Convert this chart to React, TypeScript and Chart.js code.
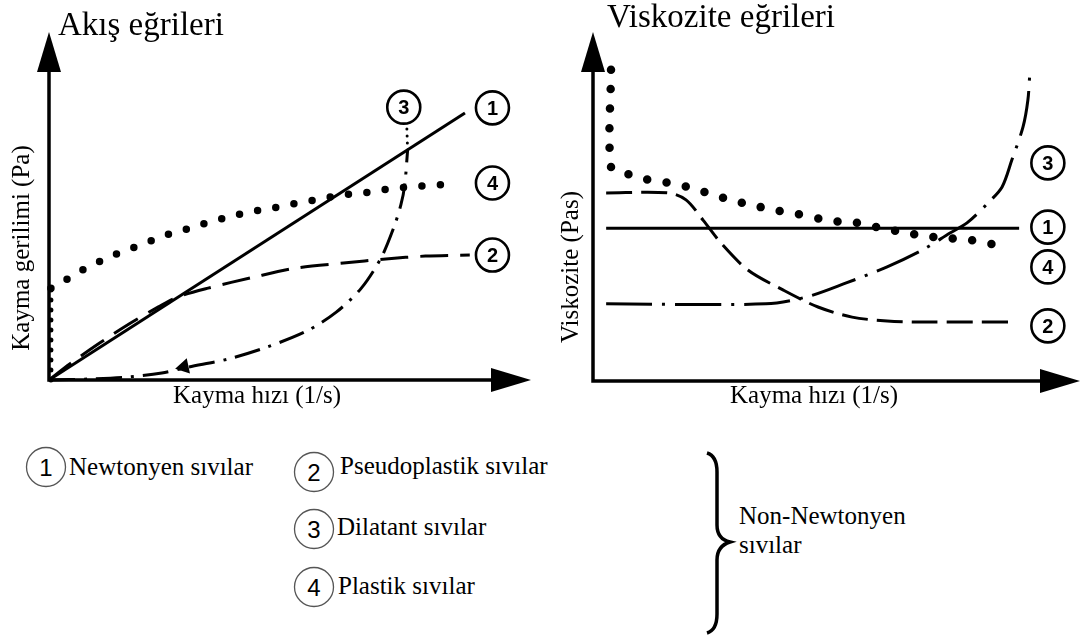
import React, { useEffect, useRef } from "react";
import { Chart, registerables } from "chart.js";

Chart.register(...registerables);

// ---------- Data (arbitrary units, both axes 0..10) ----------
// Left panel: Akış eğrileri (shear stress vs shear rate)
const flowNewtonian = [[0, 0], [8.63, 7.67]];
const flowPseudoplastic = [
  [0, 0], [0.43, 0.46], [1.05, 1.06], [1.66, 1.61], [2.27, 2.1], [2.68, 2.39],
  [3.3, 2.64], [4.26, 2.96], [5.14, 3.22], [6.11, 3.36], [6.99, 3.48], [7.81, 3.56], [8.73, 3.59],
];
const flowDilatant = [
  [0, 0], [0.84, 0.03], [1.66, 0.09], [2.34, 0.2], [2.89, 0.37], [3.71, 0.6], [4.53, 0.95],
  [5.35, 1.41], [5.96, 1.95], [6.48, 2.64], [6.89, 3.51], [7.15, 4.37], [7.3, 5.03],
  [7.38, 5.6], [7.44, 6.61],
];
const flowDilatantTail = [[7.44, 6.61], [7.42, 7.41]];
const flowDilatantArrow = [[2.8, 0.38]];
const flowPlasticYield = [[0.04, 0], [0.04, 2.64]];
const flowPlastic = [
  [0.04, 2.64], [0.29, 2.82], [0.57, 3.07], [0.9, 3.3], [1.21, 3.51], [1.56, 3.71],
  [1.91, 3.88], [2.21, 4.05], [2.54, 4.22], [2.95, 4.37], [3.32, 4.54], [3.73, 4.68],
  [4.14, 4.83], [4.53, 4.91], [4.94, 5.03], [5.29, 5.11], [5.72, 5.23], [6.09, 5.32],
  [6.52, 5.37], [6.89, 5.46], [7.25, 5.52], [7.64, 5.57], [8.03, 5.6], [8.38, 5.66],
];

// Right panel: Viskozite eğrileri (viscosity vs shear rate)
const viscNewtonian = [[0.27, 4.38], [8.75, 4.38]];
const viscPseudoplastic = [
  [0.27, 5.39], [1.54, 5.39], [1.91, 5.19], [2.26, 4.61], [2.63, 3.95], [3.18, 3.18],
  [3.9, 2.61], [4.62, 2.12], [5.32, 1.83], [6.04, 1.72], [6.76, 1.69], [8.69, 1.69],
];
const viscDilatant = [
  [0.27, 2.21], [3.55, 2.21], [4.39, 2.41], [5.2, 2.81], [6.04, 3.27], [6.76, 3.75],
  [7.33, 4.24], [7.68, 4.53], [8.11, 5.1], [8.4, 5.56], [8.6, 6.33], [8.83, 7.28],
  [8.93, 8.05], [8.97, 8.83],
];
const viscPlastic = [
  [0.37, 8.92], [0.37, 6.13], [0.66, 5.96], [0.97, 5.82], [1.38, 5.7], [1.66, 5.67],
  [2.01, 5.53], [2.42, 5.36], [2.81, 5.19], [3.26, 5.04], [3.72, 4.9], [4.19, 4.79],
  [4.68, 4.64], [5.07, 4.56], [5.44, 4.53], [5.98, 4.36], [6.37, 4.27], [6.82, 4.15],
  [7.25, 4.1], [7.74, 4.04], [8.17, 3.93], [8.54, 3.9],
];

// Curve number badges (label, x, y in data units)
const flowBadges = [["3", 7.36, 7.84], ["1", 9.2, 7.82], ["4", 9.2, 5.66], ["2", 9.2, 3.59]];
const viscBadges = [["3", 9.34, 6.25], ["1", 9.34, 4.41], ["4", 9.34, 3.27], ["2", 9.34, 1.58]];

// Texts
const flowTitle = "Akış eğrileri";
const viscTitle = "Viskozite eğrileri";
const xAxisLabel = "Kayma hızı (1/s)";
const flowYLabel = "Kayma gerilimi (Pa)";
const viscYLabel = "Viskozite (Pas)";

const legendItems = [
  ["1", "Newtonyen sıvılar"],
  ["2", "Pseudoplastik sıvılar"],
  ["3", "Dilatant sıvılar"],
  ["4", "Plastik sıvılar"],
];
const legendGroup = ["Non-Newtonyen", "sıvılar"];

// ---------- Styles ----------
const SERIF = "'Liberation Serif', 'Times New Roman', serif";
const SANS = "'Liberation Sans', Arial, sans-serif";

const pts = (a: number[][]) => a.map(([x, y]) => ({ x, y }));
function series(data: number[][], style: any) {
  return {
    data: pts(data),
    borderColor: "#000",
    backgroundColor: "#000",
    pointRadius: 0,
    fill: false,
    clip: false,
    borderWidth: 3,
    tension: 0,
    ...style,
  };
}

const solid = { borderWidth: 3 };

function panelPlugin(cfg: any) {
  return {
    id: "panel-" + cfg.id,
    beforeDatasetsDraw(chart: any) {
      const { ctx, chartArea: a } = chart;
      const head = 40, half = 12;
      ctx.save();
      ctx.strokeStyle = "#000";
      ctx.fillStyle = "#000";
      ctx.lineWidth = 3.5;
      ctx.lineCap = "square";
      ctx.beginPath();
      ctx.moveTo(a.left, a.bottom);
      ctx.lineTo(a.left, a.top + head - 2);
      ctx.moveTo(a.left, a.bottom);
      ctx.lineTo(a.right - head + 2, a.bottom);
      ctx.stroke();
      ctx.beginPath();
      ctx.moveTo(a.left, a.top);
      ctx.lineTo(a.left - half, a.top + head);
      ctx.lineTo(a.left + half, a.top + head);
      ctx.closePath();
      ctx.fill();
      ctx.beginPath();
      ctx.moveTo(a.right, a.bottom);
      ctx.lineTo(a.right - head, a.bottom - half);
      ctx.lineTo(a.right - head, a.bottom + half);
      ctx.closePath();
      ctx.fill();
      ctx.restore();
    },
    afterDatasetsDraw(chart: any) {
      const { ctx, scales } = chart;
      ctx.save();
      ctx.fillStyle = "#000";
      ctx.strokeStyle = "#000";
      for (const [n, bx, by] of cfg.badges) {
        const cx = scales.x.getPixelForValue(bx);
        const cy = scales.y.getPixelForValue(by);
        ctx.beginPath();
        ctx.fillStyle = "#fff";
        ctx.arc(cx, cy, 16.5, 0, Math.PI * 2);
        ctx.fill();
        ctx.lineWidth = 2.6;
        ctx.stroke();
        ctx.fillStyle = "#000";
        ctx.font = `bold 20px ${SANS}`;
        ctx.textAlign = "center";
        ctx.textBaseline = "alphabetic";
        ctx.fillText(n, cx, cy + 7);
      }
      ctx.textAlign = "left";
      ctx.font = `33px ${SERIF}`;
      ctx.fillText(cfg.title, cfg.titleX, cfg.titleY);
      ctx.font = `25px ${SERIF}`;
      ctx.textAlign = "center";
      ctx.fillText(xAxisLabel, cfg.xLabelX, cfg.xLabelY);
      ctx.translate(cfg.yLabelX, cfg.yLabelY);
      ctx.rotate(-Math.PI / 2);
      ctx.fillText(cfg.yLabel, 0, 0);
      ctx.restore();
    },
  };
}

function makeChart(canvas: HTMLCanvasElement, datasets: any[], padding: any, plugin: any) {
  return new Chart(canvas, {
    type: "line",
    data: { datasets },
    options: {
      animation: false,
      responsive: false,
      maintainAspectRatio: false,
      devicePixelRatio: 1,
      events: [],
      layout: { padding },
      scales: {
        x: { type: "linear", min: 0, max: 10, display: false },
        y: { type: "linear", min: 0, max: 10, display: false },
      },
      plugins: {
        legend: { display: false },
        tooltip: { enabled: false },
        title: { display: false },
      },
    },
    plugins: [plugin],
  } as any);
}

export default function App() {
  const leftRef = useRef<HTMLCanvasElement>(null);
  const rightRef = useRef<HTMLCanvasElement>(null);

  useEffect(() => {
    const left = makeChart(
      leftRef.current!,
      [
        series(flowNewtonian, solid),
        series(flowPseudoplastic, { borderDash: [28, 12], tension: 0.3 }),
        series(flowDilatant, { borderDash: [26, 9, 3, 9], tension: 0.3 }),
        series(flowDilatantTail, { borderWidth: 3, borderDash: [0, 7], borderCapStyle: "round" }),
        {
          ...series(flowDilatantArrow, {}),
          showLine: false,
          pointRadius: 6,
          pointStyle: "triangle",
          rotation: 258,
        },
        series(flowPlasticYield, { borderWidth: 5, borderDash: [0, 10], borderCapStyle: "round" }),
        series(flowPlastic, { borderWidth: 7.5, borderDash: [0, 18.5], borderCapStyle: "round", tension: 0.3 }),
      ],
      { left: 49, right: 3, top: 32, bottom: 40 },
      panelPlugin({
        id: "flow",
        badges: flowBadges,
        title: flowTitle,
        titleX: 58,
        titleY: 35,
        xLabelX: 257,
        xLabelY: 403,
        yLabel: flowYLabel,
        yLabelX: 29,
        yLabelY: 248,
      })
    );
    const right = makeChart(
      rightRef.current!,
      [
        series(viscNewtonian, solid),
        series(viscPseudoplastic, { borderDash: [26, 9], tension: 0.3 }),
        series(viscDilatant, { borderDash: [46, 10, 3, 10], tension: 0.3 }),
        series(viscPlastic, { borderWidth: 8.5, borderDash: [0, 19.5], borderCapStyle: "round", tension: 0.3 }),
      ],
      { left: 53, right: 2, top: 32, bottom: 39 },
      panelPlugin({
        id: "visc",
        badges: viscBadges,
        title: viscTitle,
        titleX: 67,
        titleY: 27,
        xLabelX: 274,
        xLabelY: 403,
        yLabel: viscYLabel,
        yLabelX: 38,
        yLabelY: 267,
      })
    );
    return () => {
      left.destroy();
      right.destroy();
    };
  }, []);

  const legendRows = [
    { cx: 46, cy: 47, tx: 69, ty: 55 },
    { cx: 314, cy: 52, tx: 340, ty: 54 },
    { cx: 314, cy: 109, tx: 337, ty: 115 },
    { cx: 314, cy: 167, tx: 338, ty: 174 },
  ];

  return (
    <div style={{ position: "absolute", left: 0, top: 0, width: 1082, height: 639, background: "#fff" }}>
      <canvas
        ref={leftRef}
        width={540}
        height={420}
        style={{ position: "absolute", left: 0, top: 0, width: 540, height: 420 }}
      />
      <canvas
        ref={rightRef}
        width={542}
        height={420}
        style={{ position: "absolute", left: 540, top: 0, width: 542, height: 420 }}
      />
      <svg width={1082} height={219} style={{ position: "absolute", left: 0, top: 420 }}>
        {legendItems.map(([n, label], i) => {
          const r = legendRows[i];
          return (
            <g key={n}>
              <circle cx={r.cx} cy={r.cy} r={19.5} fill="none" stroke="#555" strokeWidth={1.3} />
              <text x={r.cx} y={r.cy + 8.5} textAnchor="middle" fontFamily={SANS} fontSize={24} fill="#000">
                {n}
              </text>
              <text x={r.tx} y={r.ty} fontFamily={SERIF} fontSize={25} fill="#000">
                {label}
              </text>
            </g>
          );
        })}
        <path
          d="M 707 33 Q 717 36 717 52 L 717 105 Q 717 119 730 122 Q 717 126 717 140 L 717 194 Q 717 210 707 213"
          fill="none"
          stroke="#000"
          strokeWidth={3.5}
        />
        <text x={739} y={104} fontFamily={SERIF} fontSize={25} fill="#000">
          {legendGroup[0]}
        </text>
        <text x={739} y={133} fontFamily={SERIF} fontSize={25} fill="#000">
          {legendGroup[1]}
        </text>
      </svg>
    </div>
  );
}
